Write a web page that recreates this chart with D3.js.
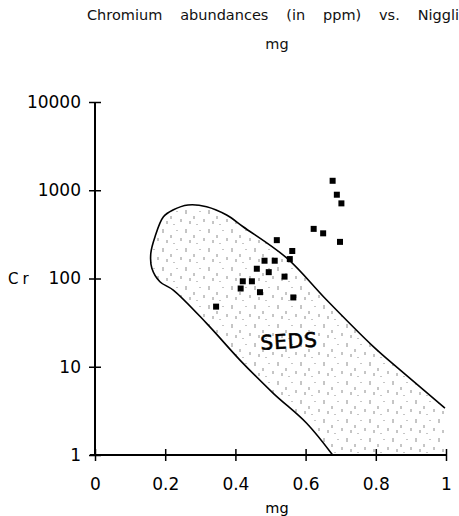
<!DOCTYPE html>
<html>
<head>
<meta charset="utf-8">
<script src="https://cdn.jsdelivr.net/npm/d3@7"></script>
<style>
  body { margin: 0; background: #fff; }
  svg { display: block; font-family: "DejaVu Sans", sans-serif; }
</style>
</head>
<body>
<div id="vis"></div>
<script>
// sample points (mg, Cr ppm)
const mgVals = [0.677, 0.689, 0.702, 0.623, 0.650, 0.698, 0.518, 0.562, 0.555, 0.483,
                0.512, 0.461, 0.495, 0.540, 0.421, 0.447, 0.415, 0.470, 0.565, 0.345];
const crVals = [1280, 890, 710, 365, 325, 260, 272, 205, 166, 159,
                159, 129, 118, 105, 93, 93, 77, 70, 61, 48];

// outline of the SEDS field
const sedsMg = [0.677, 0.603, 0.508, 0.413, 0.318, 0.223, 0.185, 0.162, 0.159, 0.171,
                0.195, 0.222, 0.265, 0.318, 0.375, 0.422, 0.546, 0.660, 0.793, 0.869, 0.997];
const sedsCr = [1, 2.29, 5.0, 11.9, 31, 74, 92, 131, 193, 298,
                501, 597, 681, 651, 524, 386, 171, 57, 16.9, 9.2, 3.4];

const xTicks = [0, 0.2, 0.4, 0.6, 0.8, 1];
const yTicks = [1, 10, 100, 1000, 10000];

const width = 459, height = 516;

const svg = d3.select("#vis").append("svg")
    .attr("width", width)
    .attr("height", height);

const x = d3.scaleLinear().domain([0, 1]).range([95, 446]);
const y = d3.scaleLog().domain([1, 10000]).range([455, 102]);

// title, spread out across the line like the original
const title = svg.append("text")
    .attr("x", 87)
    .attr("y", 20)
    .attr("font-size", 14.5)
    .attr("fill", "#111")
    .text("Chromium abundances (in ppm) vs. Niggli");
const tw = title.node().getComputedTextLength();
title.attr("word-spacing", (372 - tw) / 5);

svg.append("text")
    .attr("x", 277)
    .attr("y", 49)
    .attr("text-anchor", "middle")
    .attr("font-size", 14.5)
    .attr("fill", "#111")
    .text("mg");

// stipple pattern for the field
const defs = svg.append("defs");
const pat = defs.append("pattern")
    .attr("id", "stip")
    .attr("patternUnits", "userSpaceOnUse")
    .attr("width", 23)
    .attr("height", 19);
const dashes = [[2, 1, 5], [10, 7, 10], [16, 2, 3], [6, 12, 15], [20, 10, 13], [13, 15, 16]];
pat.selectAll("line")
    .data(dashes)
    .join("line")
    .attr("x1", d => d[0]).attr("x2", d => d[0])
    .attr("y1", d => d[1]).attr("y2", d => d[2])
    .attr("stroke", "#000")
    .attr("stroke-width", 1);

const seds = sedsMg.map((m, i) => [m, sedsCr[i]]);
const line = d3.line()
    .x(d => x(d[0]))
    .y(d => y(d[1]))
    .curve(d3.curveCatmullRom);

// filled area, closed along the frame corner
svg.append("path")
    .attr("d", line(seds) + `L${x(1)},${y(1)}Z`)
    .attr("fill", "url(#stip)")
    .attr("opacity", 0.45);

svg.append("path")
    .attr("d", line(seds))
    .attr("fill", "none")
    .attr("stroke", "#000")
    .attr("stroke-width", 1.6);

svg.append("text")
    .attr("x", x(0.553))
    .attr("y", y(19.5))
    .attr("dy", "0.35em")
    .attr("text-anchor", "middle")
    .attr("font-size", 20)
    .attr("letter-spacing", 1)
    .attr("stroke", "#000")
    .attr("stroke-width", 0.6)
    .attr("transform", `rotate(-3,${x(0.553)},${y(19.5)})`)
    .text("SEDS");

// axes
const xAxis = svg.append("g")
    .attr("transform", `translate(0,${y(1)})`)
    .call(d3.axisBottom(x).tickValues(xTicks).tickSize(6).tickPadding(17)
        .tickFormat(d => d3.format("")(d)));
xAxis.select(".domain").attr("d", `M${x(0) - 5},0H${x(1)}`).attr("stroke-width", 2);
xAxis.selectAll(".tick line").attr("y1", -6).attr("y2", 6).attr("stroke-width", 1.5);
xAxis.selectAll(".tick text").attr("font-size", 17).attr("font-family", "DejaVu Sans");

const yAxis = svg.append("g")
    .attr("transform", `translate(${x(0)},0)`)
    .call(d3.axisLeft(y).tickValues(yTicks).tickSize(6).tickPadding(8)
        .tickFormat(d3.format("d")));
yAxis.select(".domain").attr("d", `M0,${y(10000)}V${y(1)}`).attr("stroke-width", 2);
yAxis.selectAll(".tick line").attr("x1", -6).attr("x2", 6).attr("stroke-width", 1.5);
yAxis.selectAll(".tick text").attr("font-size", 17).attr("font-family", "DejaVu Sans");

svg.append("text")
    .attr("x", 8)
    .attr("y", y(100))
    .attr("dy", "0.35em")
    .attr("font-size", 15)
    .attr("letter-spacing", 4)
    .text("Cr");

svg.append("text")
    .attr("x", 277)
    .attr("y", 513)
    .attr("text-anchor", "middle")
    .attr("font-size", 14.5)
    .text("mg");

// sample points
const pts = mgVals.map((m, i) => [m, crVals[i]]);
svg.append("g")
  .selectAll("rect")
  .data(pts)
  .join("rect")
    .attr("x", d => x(d[0]) - 3)
    .attr("y", d => y(d[1]) - 3)
    .attr("width", 6)
    .attr("height", 6)
    .attr("fill", "#000");
</script>
</body>
</html>
